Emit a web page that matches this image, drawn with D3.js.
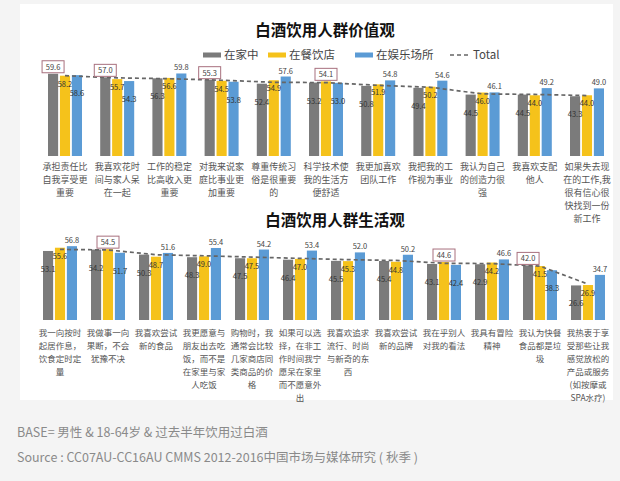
<!DOCTYPE html>
<html><head><meta charset="utf-8">
<script src="https://cdn.jsdelivr.net/npm/d3@7"></script>
<style>
html,body{margin:0;padding:0;background:#f4f4f4;}
svg{display:block;font-family:"Noto Sans CJK SC","Noto Sans",sans-serif;}
</style></head><body>
<svg id="c" width="620" height="481"></svg>
<script>
const series = ["在家中", "在餐饮店", "在娱乐场所"];
const seriesColors = ["#7b7b7b", "#f5c21b", "#5b9bd5"];

// 价值观
const valueCategories = [
  "承担责任比\n自我享受更\n重要",
  "我喜欢花时\n间与家人呆\n在一起",
  "工作的稳定\n比高收入更\n重要",
  "对我来说家\n庭比事业更\n加重要",
  "尊重传统习\n俗是很重要\n的",
  "科学技术使\n我的生活方\n便舒适",
  "我更加喜欢\n团队工作",
  "我把我的工\n作视为事业",
  "我认为自己\n的创造力很\n强",
  "我喜欢支配\n他人",
  "如果失去现\n在的工作,我\n很有信心很\n快找到一份\n新工作"
];
const valueHome   = [59.6, 57.0, 56.3, 55.3, 52.4, 53.2, 50.8, 49.4, 44.5, 44.5, 43.3];
const valueRest   = [58.2, 55.7, 56.6, 54.5, 54.9, 54.1, 51.9, 50.2, 46.0, 44.0, 44.0];
const valueEnt    = [58.6, 54.3, 59.8, 53.8, 57.6, 53.0, 54.8, 54.6, 46.1, 49.2, 49.0];
const valueTotal  = [58.2, 56.6, 56.0, 54.9, 53.4, 53.2, 51.2, 49.8, 45.0, 44.6, 43.8];
const valueBoxed  = [[0, 0], [1, 0], [3, 0], [5, 1]]; // [category index, series index]

// 生活观
const lifeCategories = [
  "我一向按时\n起居作息，\n饮食定时定\n量",
  "我做事一向\n果断，不会\n犹豫不决",
  "我喜欢尝试\n新的食品",
  "我更愿意与\n朋友出去吃\n饭，而不是\n在家里与家\n人吃饭",
  "购物时，我\n通常会比较\n几家商店同\n类商品的价\n格",
  "如果可以选\n择，在非工\n作时间我宁\n愿呆在家里\n而不愿意外\n出",
  "我喜欢追求\n流行、时尚\n与新奇的东\n西",
  "我喜欢尝试\n新的品牌",
  "我在乎别人\n对我的看法",
  "我具有冒险\n精神",
  "我认为快餐\n食品都是垃\n圾",
  "我热衷于享\n受那些让我\n感觉放松的\n产品或服务\n(如按摩或\nSPA水疗)"
];
const lifeHome  = [53.1, 54.2, 50.3, 48.3, 47.5, 46.4, 45.5, 45.4, 43.1, 42.9, 42.0, 26.6];
const lifeRest  = [55.6, 54.5, 48.7, 49.0, 47.5, 47.0, 45.3, 44.8, 44.6, 44.2, 41.5, 26.9];
const lifeEnt   = [56.8, 51.7, 51.6, 55.4, 54.2, 53.4, 52.0, 50.2, 42.4, 46.6, 38.3, 34.7];
const lifeTotal = [54.3, 53.9, 50.2, 49.4, 48.4, 47.4, 46.4, 45.8, 43.6, 43.4, 41.4, 27.6];
const lifeBoxed = [[1, 1], [8, 1], [10, 0]];

const titles = ["白酒饮用人群价值观", "白酒饮用人群生活观"];
const legendTotal = "Total";
const noteBase = "BASE= 男性 & 18-64岁 &  过去半年饮用过白酒";
const noteSource = "Source : CC07AU-CC16AU CMMS 2012-2016中国市场与媒体研究 ( 秋季 )";

const svg = d3.select("#c");
svg.append("rect").attr("x", 20).attr("y", 4).attr("width", 593).attr("height", 396)
  .attr("fill", "#ffffff");

function drawPanel(cfg) {
  const g = svg.append("g");
  const n = cfg.categories.length;
  const x = d3.scaleBand().domain(d3.range(n)).range(cfg.xRange).paddingInner(0).paddingOuter(0);
  const x1 = d3.scaleBand().domain(d3.range(3)).range([-17, 17]).paddingInner(0.15);
  const y = d3.scaleLinear().domain([0, 60]).range([cfg.base, cfg.base - 60 * cfg.ppu]);
  const cx = i => x(i) + x.bandwidth() / 2;
  const vals = [cfg.home, cfg.rest, cfg.ent];
  const boxedSet = new Set(cfg.boxed.map(d => d[0] + "-" + d[1]));

  // title
  g.append("text").attr("x", cfg.titleX).attr("y", cfg.titleY).attr("text-anchor", "middle")
    .attr("font-size", 15.5).attr("font-weight", "bold").attr("fill", "#111").text(cfg.title);

  // bars
  const data = [];
  for (let i = 0; i < n; i++) for (let s = 0; s < 3; s++) data.push({ i, s, v: vals[s][i] });
  g.selectAll("rect.bar").data(data).join("rect").attr("class", "bar")
    .attr("x", d => cx(d.i) + x1(d.s))
    .attr("width", x1.bandwidth())
    .attr("y", d => y(d.v))
    .attr("height", d => y(0) - y(d.v))
    .attr("fill", d => seriesColors[d.s]);

  // total dashed line
  const line = d3.line().x((d, i) => cx(i)).y(d => y(d));
  g.append("path").attr("d", line(cfg.total)).attr("fill", "none")
    .attr("stroke", "#666").attr("stroke-width", 1.7).attr("stroke-dasharray", "4,3");

  // labels
  data.forEach(d => {
    const bx = cx(d.i) + x1(d.s) + x1.bandwidth() / 2;
    const top = y(d.v);
    const maxV = Math.max(vals[0][d.i], vals[1][d.i], vals[2][d.i]);
    const txt = d.v.toFixed(1);
    if (boxedSet.has(d.i + "-" + d.s)) {
      g.append("rect").attr("x", bx - 11).attr("y", top - 13).attr("width", 22).attr("height", 12)
        .attr("fill", "#ffffff").attr("stroke", "#a8707e").attr("stroke-width", 1);
      g.append("text").attr("x", bx).attr("y", top - 4).attr("text-anchor", "middle")
        .attr("font-size", 7.5).attr("fill", "#444").text(txt);
    } else if (d.v === maxV) {
      g.append("text").attr("x", bx).attr("y", top - 3).attr("text-anchor", "middle")
        .attr("font-size", 7.5).attr("fill", "#444").text(txt);
    } else {
      const off = d.s === 1 ? 11 : 21;
      g.append("text").attr("x", bx).attr("y", top + off).attr("text-anchor", "middle")
        .attr("font-size", 7.5).attr("fill", "#333").text(txt);
    }
  });

  // category labels
  cfg.categories.forEach((c, i) => {
    const t = g.append("text").attr("text-anchor", "middle").attr("font-size", cfg.catFont)
      .attr("fill", "#555");
    c.split("\n").forEach((ln, k) => {
      t.append("tspan").attr("x", cx(i)).attr("y", cfg.catY + k * 13).text(ln);
    });
  });
}

drawPanel({
  title: titles[0], titleX: 325, titleY: 36,
  categories: valueCategories, home: valueHome, rest: valueRest, ent: valueEnt,
  total: valueTotal, boxed: valueBoxed,
  xRange: [38.9, 613.1], base: 156, ppu: 1.38, catY: 170, catFont: 9
});
drawPanel({
  title: titles[1], titleX: 335, titleY: 226,
  categories: lifeCategories, home: lifeHome, rest: lifeRest, ent: lifeEnt,
  total: lifeTotal, boxed: lifeBoxed,
  xRange: [36, 612], base: 320, ppu: 1.3, catY: 336, catFont: 8.5
});

// legend
const legendItems = series.map((s, k) => ({ label: s, color: seriesColors[k], dash: false }))
  .concat([{ label: legendTotal, color: "#666", dash: true }]);
const legendX = [203, 268, 355, 450];
const lg = svg.append("g");
legendItems.forEach((d, k) => {
  if (d.dash) {
    lg.append("line").attr("x1", legendX[k]).attr("x2", legendX[k] + 20).attr("y1", 55).attr("y2", 55)
      .attr("stroke", d.color).attr("stroke-width", 1.7).attr("stroke-dasharray", "4,3");
  } else {
    lg.append("rect").attr("x", legendX[k]).attr("y", 52.5).attr("width", 18).attr("height", 5)
      .attr("fill", d.color);
  }
  lg.append("text").attr("x", legendX[k] + (d.dash ? 23 : 21)).attr("y", 59)
    .attr("font-size", 11.5).attr("fill", "#444").text(d.label);
});

// footnotes
svg.append("text").attr("x", 17).attr("y", 437).attr("font-size", 12.5).attr("fill", "#8a8a8a").text(noteBase);
svg.append("text").attr("x", 17).attr("y", 462).attr("font-size", 12.5).attr("fill", "#8a8a8a").text(noteSource);
</script>
</body></html>
